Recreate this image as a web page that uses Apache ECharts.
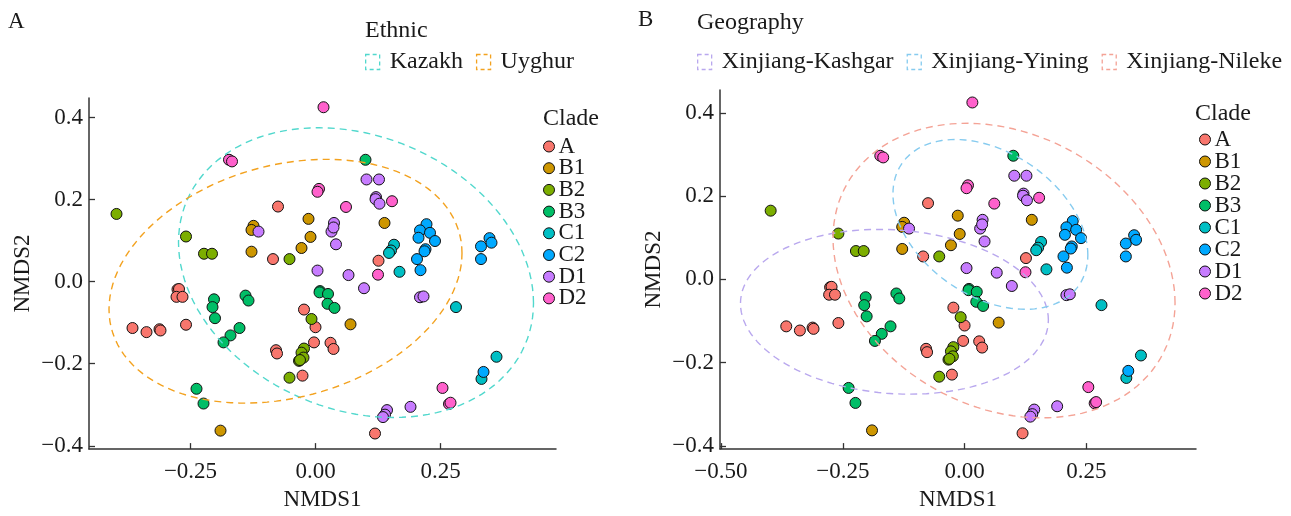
<!DOCTYPE html>
<html><head><meta charset="utf-8">
<script src="https://cdn.jsdelivr.net/npm/echarts@6/dist/echarts.min.js"></script>
<style>html,body{margin:0;padding:0;background:#fff}#c{width:1291px;height:516px}</style>
</head><body><div id="c"></div>
<script>
// ---------- data ----------
const cladeNames = ['A','B1','B2','B3','C1','C2','D1','D2'];
const cladeColors = ['#F8766D','#CD9600','#7CAE00','#00BE67','#00BFC4','#00A9FF','#C77CFF','#FF61CC'];

const cladeA = [[-0.075,0.183],[-0.085,0.055],[0.126,0.051],[-0.276,-0.019],[-0.273,-0.018],[-0.278,-0.037],[-0.266,-0.037],
  [-0.023,-0.068],[0.000,-0.111],[-0.366,-0.113],[-0.338,-0.123],[-0.312,-0.116],[-0.310,-0.119],[-0.259,-0.105],
  [-0.003,-0.148],[0.030,-0.149],[0.036,-0.164],[-0.079,-0.167],[-0.077,-0.175],[-0.026,-0.229],[0.119,-0.370]];
const cladeB1 = [[-0.014,0.153],[-0.124,0.136],[-0.128,0.126],[-0.010,0.109],[-0.128,0.073],[-0.028,0.082],[0.138,0.143],
  [0.070,-0.104],[-0.190,-0.363]];
const cladeB2 = [[-0.398,0.165],[-0.259,0.110],[-0.223,0.068],[-0.207,0.068],[-0.052,0.055],[-0.008,-0.091],[-0.023,-0.163],
  [-0.028,-0.173],[-0.024,-0.185],[-0.033,-0.193],[-0.031,-0.191],[-0.052,-0.234]];
const cladeB3 = [[0.100,0.297],[-0.203,-0.043],[-0.206,-0.062],[-0.201,-0.089],[-0.140,-0.034],[-0.134,-0.046],[0.009,-0.023],
  [0.008,-0.026],[0.025,-0.030],[0.024,-0.054],[0.038,-0.064],[-0.152,-0.113],[-0.170,-0.131],[-0.184,-0.148],
  [-0.238,-0.261],[-0.224,-0.297]];
const cladeC1 = [[0.157,0.090],[0.151,0.076],[0.147,0.070],[0.168,0.024],[0.281,-0.062],[0.362,-0.183],[0.332,-0.237]];
const cladeC2 = [[0.222,0.140],[0.209,0.125],[0.229,0.119],[0.206,0.107],[0.239,0.099],[0.220,0.079],[0.218,0.074],
  [0.203,0.055],[0.331,0.086],[0.348,0.106],[0.352,0.095],[0.331,0.055],[0.210,0.028],[0.336,-0.220]];
const cladeD1 = [[0.102,0.249],[0.127,0.249],[0.121,0.206],[0.120,0.201],[0.128,0.190],[-0.114,0.122],[0.037,0.143],
  [0.032,0.122],[0.036,0.132],[0.041,0.091],[0.004,0.027],[0.066,0.016],[0.097,-0.016],[0.209,-0.038],[0.216,-0.036],
  [0.190,-0.305],[0.143,-0.313],[0.139,-0.324],[0.135,-0.330]];
const cladeD2 = [[0.016,0.425],[-0.173,0.297],[-0.167,0.293],[0.007,0.226],[0.004,0.219],[0.061,0.182],[0.153,0.196],
  [0.125,0.017],[0.254,-0.259],[0.267,-0.298],[0.270,-0.295]];
const cladeData = [cladeA, cladeB1, cladeB2, cladeB3, cladeC1, cladeC2, cladeD1, cladeD2];

// ellipse groups (centre, half-width, half-height, correlation)
const ethnicNames = ['Kazakh','Uyghur'];
const ethnicColors = ['#52D8CD','#F3A21F'];
const ethnicCx = [0.081,-0.060], ethnicCy = [0.022,0.001];
const ethnicW = [0.355,0.353], ethnicH = [0.353,0.297], ethnicR = [-0.21,0.23];

const geoNames = ['Xinjiang-Kashgar','Xinjiang-Yining','Xinjiang-Nileke'];
const geoColors = ['#B9A8EE','#86CBEF','#F4A396'];
const geoCx = [-0.144,0.053,0.081], geoCy = [-0.078,0.132,0.021];
const geoW = [0.316,0.200,0.351], geoH = [0.198,0.204,0.354], geoR = [-0.10,-0.36,-0.22];

const xTicksA = [-0.25,0,0.25];
const xTicksB = [-0.5,-0.25,0,0.25];
const yTicks = [-0.4,-0.2,0,0.2,0.4];

// ---------- chart ----------
const FONT = 'Liberation Serif';
const TXT = '#1a1a1a';
const FS = 23;
const FL = 24;

function ellipsePath(cx, cy, w, h, r) {
  const pts = [], n = 120, s = Math.sqrt(1 - r * r);
  for (let i = 0; i <= n; i++) {
    const t = 2 * Math.PI * i / n;
    pts.push([cx + w * Math.cos(t), cy + h * (r * Math.cos(t) + s * Math.sin(t))]);
  }
  return pts;
}
const fmt = (d) => (v) => (v < 0 ? '\u2212' : '') + Math.abs(v).toFixed(d);

function xAxis(idx, min, max, ticks) {
  return {
    gridIndex: idx, type: 'value', min, max,
    name: 'NMDS1', nameLocation: 'middle', nameGap: 27,
    nameTextStyle: {fontFamily: FONT, fontSize: FS, color: TXT},
    axisLine: {show: true, onZero: false, lineStyle: {color: '#333', width: 1.5}},
    axisTick: {show: true, inside: true, length: 6, customValues: ticks, lineStyle: {color: '#333', width: 1.3}},
    axisLabel: {customValues: ticks, formatter: fmt(2), margin: 11, fontFamily: FONT, fontSize: FS, color: TXT},
    splitLine: {show: false}
  };
}
function yAxis(idx, min, max) {
  return {
    gridIndex: idx, type: 'value', min, max,
    name: 'NMDS2', nameLocation: 'middle', nameRotate: 90, nameGap: 55,
    nameTextStyle: {fontFamily: FONT, fontSize: FS, color: TXT},
    axisLine: {show: true, onZero: false, lineStyle: {color: '#333', width: 1.5}},
    axisTick: {show: true, inside: true, length: 6, customValues: yTicks, lineStyle: {color: '#333', width: 1.3}},
    axisLabel: {customValues: yTicks, formatter: fmt(1), margin: 6, fontFamily: FONT, fontSize: FS, color: TXT},
    splitLine: {show: false}
  };
}

const series = [];
[0, 1].forEach(g => {
  cladeNames.forEach((n, i) => series.push({
    type: 'scatter', name: n, xAxisIndex: g, yAxisIndex: g, data: cladeData[i],
    symbolSize: 11, itemStyle: {color: cladeColors[i], borderColor: '#111', borderWidth: 1, opacity: 1},
    emphasis: {disabled: true}, z: 3
  }));
});
ethnicNames.forEach((n, i) => series.push({
  type: 'line', name: n, xAxisIndex: 0, yAxisIndex: 0, showSymbol: false, silent: true, z: 4,
  data: ellipsePath(ethnicCx[i], ethnicCy[i], ethnicW[i], ethnicH[i], ethnicR[i]),
  itemStyle: {color: ethnicColors[i]},
  lineStyle: {color: ethnicColors[i], width: 1.4, type: [7, 5]}
}));
geoNames.forEach((n, i) => series.push({
  type: 'line', name: n, xAxisIndex: 1, yAxisIndex: 1, showSymbol: false, silent: true, z: 4,
  data: ellipsePath(geoCx[i], geoCy[i], geoW[i], geoH[i], geoR[i]),
  itemStyle: {color: geoColors[i]},
  lineStyle: {color: geoColors[i], width: 1.4, type: [7, 5]}
}));

const boxLegend = (names, colors) => names.map((n, i) => ({
  name: n, icon: 'rect',
  itemStyle: {color: 'rgba(255,255,255,0)', borderColor: colors[i], borderWidth: 1.3, borderType: [4, 3]}
}));
const cladeLegend = (left, top, gap) => ({
  orient: 'vertical', left, top, itemGap: gap, itemWidth: 11, itemHeight: 11, icon: 'circle',
  data: cladeNames, selectedMode: false,
  itemStyle: {borderColor: '#111', borderWidth: 1},
  textStyle: {fontFamily: FONT, fontSize: FS, color: TXT, lineHeight: 22, padding: [0, 0, 0, -1]}
});
const tStyle = {fontFamily: FONT, fontSize: FL, fontWeight: 'normal', color: TXT};
const pStyle = {fontFamily: FONT, fontSize: FS, fontWeight: 'normal', color: TXT};

const option = {
  backgroundColor: '#fff',
  animation: false,
  title: [
    {text: 'A', left: 3, top: 5, textStyle: pStyle},
    {text: 'B', left: 633, top: 3, textStyle: pStyle},
    {text: 'Ethnic', left: 360, top: 14, textStyle: tStyle},
    {text: 'Geography', left: 692, top: 6, textStyle: tStyle},
    {text: 'Clade', left: 538, top: 102, textStyle: tStyle},
    {text: 'Clade', left: 1190, top: 97, textStyle: tStyle}
  ],
  legend: [
    {orient: 'horizontal', left: 360, top: 45, itemWidth: 14, itemHeight: 15, itemGap: 13, selectedMode: false,
     data: boxLegend(ethnicNames, ethnicColors),
     textStyle: {fontFamily: FONT, fontSize: FL, color: TXT, padding: [0, 0, 0, 5]}},
    {orient: 'horizontal', left: 692, top: 45, itemWidth: 14, itemHeight: 15, itemGap: 13, selectedMode: false,
     data: boxLegend(geoNames, geoColors),
     textStyle: {fontFamily: FONT, fontSize: FL, color: TXT, padding: [0, 0, 0, 5]}},
    cladeLegend(538, 130, -1.3),
    cladeLegend(1194, 123, -1)
  ],
  grid: [
    {left: 89, top: 98, width: 467, height: 358, containLabel: false},
    {left: 720, top: 90, width: 476, height: 366, containLabel: false}
  ],
  xAxis: [xAxis(0, -0.453, 0.481, xTicksA), xAxis(1, -0.502, 0.475, xTicksB)],
  yAxis: [yAxis(0, -0.408, 0.4475), yAxis(1, -0.408, 0.455)],
  series
};
const chart = echarts.init(document.getElementById('c'), null, {renderer: 'canvas'});
chart.setOption(option);
</script>
</body></html>
